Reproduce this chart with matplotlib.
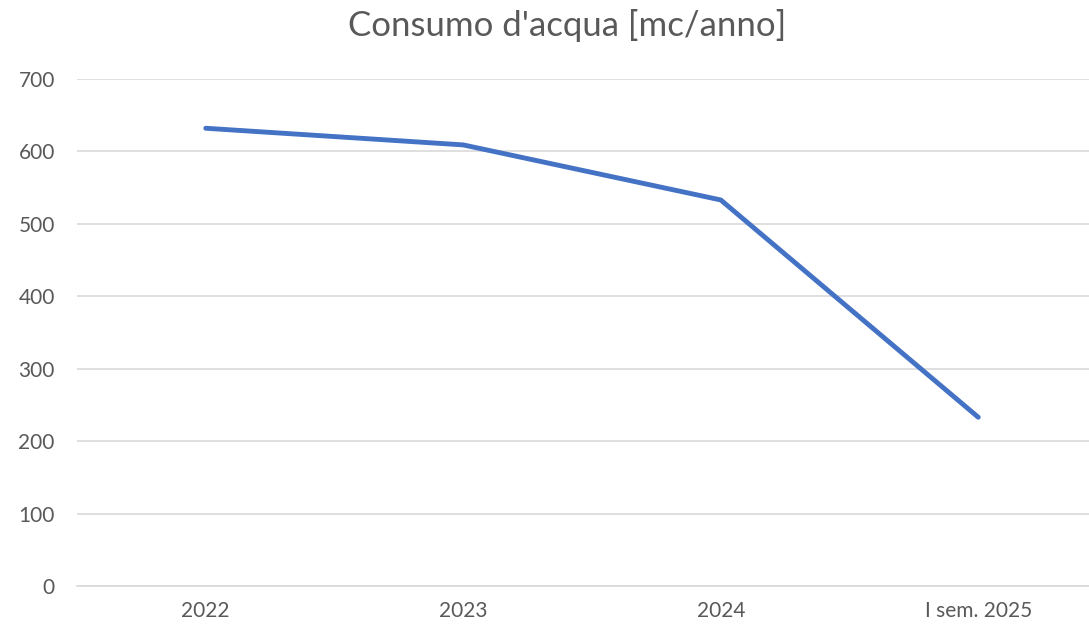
import matplotlib
matplotlib.use("Agg")
import matplotlib.pyplot as plt

categories = ["2022", "2023", "2024", "I sem. 2025"]
values = [632, 609, 533, 233]
yticks = [0, 100, 200, 300, 400, 500, 600, 700]

plt.rcParams['font.family'] = ['Lato', 'DejaVu Sans']

fig = plt.figure(figsize=(10.89, 6.28), dpi=100)
ax = fig.add_axes([77/1089, 42/628, 1030/1089, 507/628])
x = list(range(len(categories)))
ax.plot(x, values, color="#4472C4", linewidth=3.5, solid_capstyle="round", solid_joinstyle="round", zorder=3)
ax.set_xlim(-0.5, len(categories) - 0.5)
ax.set_ylim(0, 700)
ax.set_yticks(yticks)
ax.set_yticklabels([str(v) for v in yticks])
ax.set_xticks(x)
ax.set_xticklabels(categories)
ax.grid(axis="y", color="#D9D9D9", linewidth=1.2)
ax.set_axisbelow(True)
for s in ["top", "right", "left"]:
    ax.spines[s].set_visible(False)
ax.spines["bottom"].set_color("#D9D9D9")
ax.spines["bottom"].set_linewidth(1.2)
ax.tick_params(axis="both", length=0, labelsize=15, labelcolor="#595959")
ax.tick_params(axis="y", pad=16)
ax.tick_params(axis="x", pad=11)
fig.text(567/1089, 1 - 25/628, "Consumo d'acqua [mc/anno]", ha="center", va="center",
         fontsize=25, color="#595959")
fig.savefig("out.png", dpi=100)
